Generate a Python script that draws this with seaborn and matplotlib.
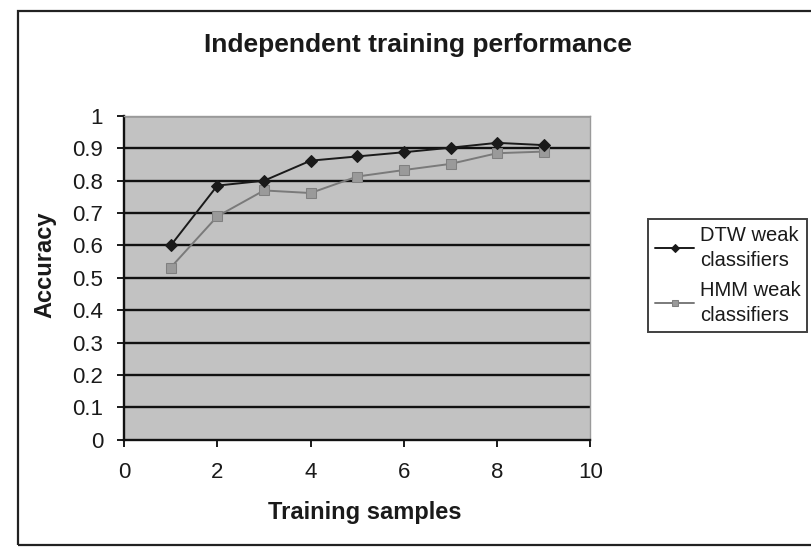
import matplotlib
matplotlib.use("Agg")
import matplotlib.pyplot as plt
from matplotlib.patches import Rectangle
import numpy as np
import pandas as pd
import seaborn as sns

# Accuracy per number of training samples
samples = [1, 2, 3, 4, 5, 6, 7, 8, 9]
dtw_acc = [0.60, 0.785, 0.80, 0.862, 0.875, 0.888, 0.902, 0.917, 0.910]
hmm_acc = [0.532, 0.69, 0.77, 0.762, 0.813, 0.833, 0.852, 0.885, 0.890]
series_names = ["DTW weak\nclassifiers", "HMM weak\nclassifiers"]
y_ticks = [0, 0.1, 0.2, 0.3, 0.4, 0.5, 0.6, 0.7, 0.8, 0.9, 1]
y_tick_labels = ["0", "0.1", "0.2", "0.3", "0.4", "0.5", "0.6", "0.7", "0.8", "0.9", "1"]
x_ticks = [0, 2, 4, 6, 8, 10]

sns.set_theme(style="white")
plt.rcParams["font.family"] = ["Liberation Sans", "DejaVu Sans"]

fig = plt.figure(figsize=(8.11, 5.47), dpi=100)
ax = fig.add_axes([0.153, 0.196, 0.575, 0.592])
ax.set_facecolor("#c2c2c2")

# Horizontal gridlines drawn in black, like a spreadsheet chart
for yv in y_ticks[1:]:
    ax.axhline(yv, color="#111111", lw=1.7, zorder=1)

sns.lineplot(x=samples, y=dtw_acc, ax=ax, color="#1a1a1a", lw=1.4,
             marker="D", markersize=6.5, markeredgecolor="#1a1a1a",
             label=series_names[0], zorder=3)
sns.lineplot(x=samples, y=hmm_acc, ax=ax, color="#7a7a7a", lw=1.4,
             marker="s", markersize=6.5, markerfacecolor="#9a9a9a",
             markeredgecolor="#808080", label=series_names[1], zorder=2)

ax.set_xlim(0, 10)
ax.set_ylim(0, 1)
ax.set_xticks(x_ticks)
ax.set_xticklabels([str(v) for v in x_ticks])
ax.set_yticks(y_ticks)
ax.set_yticklabels(y_tick_labels)
ax.tick_params(axis="both", labelsize=16, colors="#1a1a1a", length=5,
               width=1.4, direction="out", bottom=True, left=True)
ax.tick_params(axis="x", pad=11)
ax.tick_params(axis="y", pad=10)

for side in ["left", "bottom"]:
    ax.spines[side].set_color("#111111")
    ax.spines[side].set_linewidth(1.7)
for side in ["top", "right"]:
    ax.spines[side].set_color("#9a9a9a")
    ax.spines[side].set_linewidth(1.0)

ax.set_xlabel("Training samples", fontsize=17, fontweight="bold",
              color="#1a1a1a")
ax.xaxis.set_label_coords(0.517, -0.19)
ax.set_ylabel("Accuracy", fontsize=17, fontweight="bold",
              color="#1a1a1a")
ax.yaxis.set_label_coords(-0.145, 0.54)

fig.text(0.515, 0.917, "Independent training performance", ha="center",
         va="center", fontsize=19, fontweight="bold", color="#1a1a1a")

leg = ax.legend(loc="center left", bbox_to_anchor=(0.787, 0.497),
                bbox_transform=fig.transFigure, frameon=True, fontsize=14.5,
                handlelength=1.9, handletextpad=0.3, borderpad=0.35,
                labelspacing=0.55, fancybox=False, markerscale=0.7)
leg.get_frame().set_edgecolor("#111111")
leg.get_frame().set_linewidth(1.4)
for t in leg.get_texts():
    t.set_color("#1a1a1a")
    t.set_linespacing(1.4)

# Outer chart frame
fig.patches.append(Rectangle((0.022, 0.004), 1.2, 0.975,
                             transform=fig.transFigure, fill=False,
                             edgecolor="#222222", lw=1.6))

fig.savefig("out.png", dpi=100)
